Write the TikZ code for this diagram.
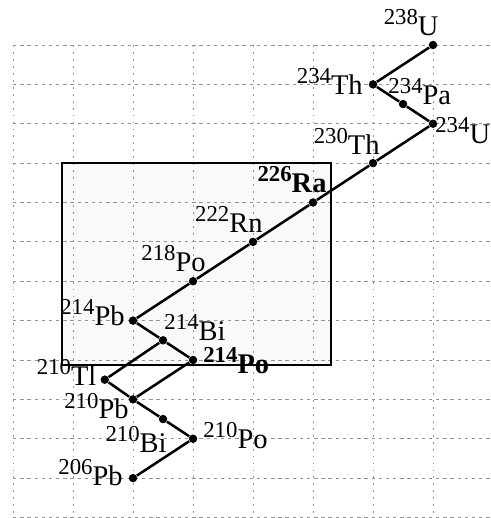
\documentclass[tikz,border=0pt]{standalone}
\usepackage{fontspec}
\setmainfont{Liberation Serif}
\usepackage{tikz}
\usetikzlibrary{positioning,backgrounds}

\newcommand{\nuc}[2]{\raisebox{5.2pt}{\fontsize{10.8}{12}\selectfont #1}#2}

\begin{document}
\begin{tikzpicture}[
  x=1cm, y=0.6562cm,
  font=\fontsize{13.5}{16}\selectfont,
  dot/.style   ={circle, fill=black, inner sep=0pt, minimum size=4pt},
  iso/.style   ={inner sep=0pt},
  chain/.style ={line width=1.2pt},
  gridh/.style ={gray!85, line width=0.45pt, dash pattern=on 1.6pt off 1.8pt},
  gridv/.style ={gray!85, line width=0.45pt, dash pattern=on 0.9pt off 2.4pt},
  frame/.style ={draw=black, line width=0.7pt},
]

\useasboundingbox (-0.2167cm,0.75cm) rectangle (7.95cm,-7.883cm);

% ---------- shaded box ----------
\fill[gray!5] (0.817,-3) rectangle (5.3,-8.13);

% ---------- grid ----------
\foreach \r in {0,...,12}
  \draw[gridh] (0,-\r) -- (7.95,-\r);
\foreach \c in {0,...,7}
  \draw[gridv] (\c,0) -- (\c,-12);

\draw[frame] (0.817,-3) rectangle (5.3,-8.13);

% ---------- nuclides ----------
\node[dot] (u238)  at (7,0)      {};
\node[dot] (th234) at (6,-1)     {};
\node[dot] (pa234) at (6.5,-1.5) {};
\node[dot] (u234)  at (7,-2)     {};
\node[dot] (th230) at (6,-3)     {};
\node[dot] (ra226) at (5,-4)     {};
\node[dot] (rn222) at (4,-5)     {};
\node[dot] (po218) at (3,-6)     {};
\node[dot] (pb214) at (2,-7)     {};
\node[dot] (bi214) at (2.5,-7.5) {};
\node[dot] (po214) at (3,-8)     {};
\node[dot] (tl210) at (1.53,-8.5) {};
\node[dot] (pb210) at (2,-9)     {};
\node[dot] (bi210) at (2.5,-9.5) {};
\node[dot] (po210) at (3,-10)    {};
\node[dot] (pb206) at (2,-11)    {};

% ---------- decay chain ----------
\draw[chain] (u238) -- (th234) -- (pa234) -- (u234) -- (th230) -- (ra226)
  -- (rn222) -- (po218) -- (pb214) -- (bi214) -- (po214) -- (pb210);
\draw[chain] (bi214) -- (tl210) -- (pb210) -- (bi210) -- (po210) -- (pb206);

% ---------- labels ----------
\node[iso, anchor=base east] (tu238)  at ([xshift=2.8pt,yshift=4.7pt]u238.center)   {\nuc{238}{U}};
\node[iso, anchor=base east] (tth234) at ([xshift=-4.7pt,yshift=-4.7pt]th234.center) {\nuc{234}{Th}};
\node[iso, anchor=base west] (tpa234) at ([xshift=-7.1pt]pa234.center)              {\nuc{234}{Pa}};
\node[iso, anchor=base west] (tu234)  at ([xshift=0.9pt,yshift=-9.5pt]u234.center)  {\nuc{234}{U}};
\node[iso, anchor=base east] (tth230) at ([xshift=3.3pt,yshift=4.3pt]th230.center)  {\nuc{230}{Th}};
\node[iso, anchor=base east] (tra226) at ([xshift=6.6pt,yshift=4.7pt]ra226.center)  {\bfseries\nuc{226}{Ra}};
\node[iso, anchor=base east] (trn222) at ([xshift=4.7pt,yshift=4.3pt]rn222.center)  {\nuc{222}{Rn}};
\node[iso, anchor=base east] (tpo218) at ([xshift=6.2pt,yshift=4.7pt]po218.center)  {\nuc{218}{Po}};
\node[iso, anchor=base east] (tpb214) at ([xshift=-3.8pt,yshift=-2.4pt]pb214.center) {\nuc{214}{Pb}};
\node[iso, anchor=base west] (tbi214) at ([xshift=0.5pt]bi214.center)               {\nuc{214}{Bi}};
\node[iso, anchor=base west] (tpo214) at ([xshift=4.7pt,yshift=-6.6pt]po214.center) {\bfseries\nuc{214}{Po}};
\node[iso, anchor=base east] (ttl210) at ([xshift=-3.8pt,yshift=-2.8pt]tl210.center) {\nuc{210}{Tl}};
\node[iso, anchor=base east] (tpb210) at ([xshift=-1.9pt,yshift=-9.3pt]pb210.center) {\nuc{210}{Pb}};
\node[iso, anchor=base east] (tbi210) at ([xshift=1.9pt,yshift=-16pt]bi210.center) {\nuc{210}{Bi}};
\node[iso, anchor=base west] (tpo210) at ([xshift=4.7pt,yshift=-4.7pt]po210.center) {\nuc{210}{Po}};
\node[iso, anchor=base east] (tpb206) at ([xshift=-4.7pt,yshift=-3.3pt]pb206.center) {\nuc{206}{Pb}};

\end{tikzpicture}
\end{document}
